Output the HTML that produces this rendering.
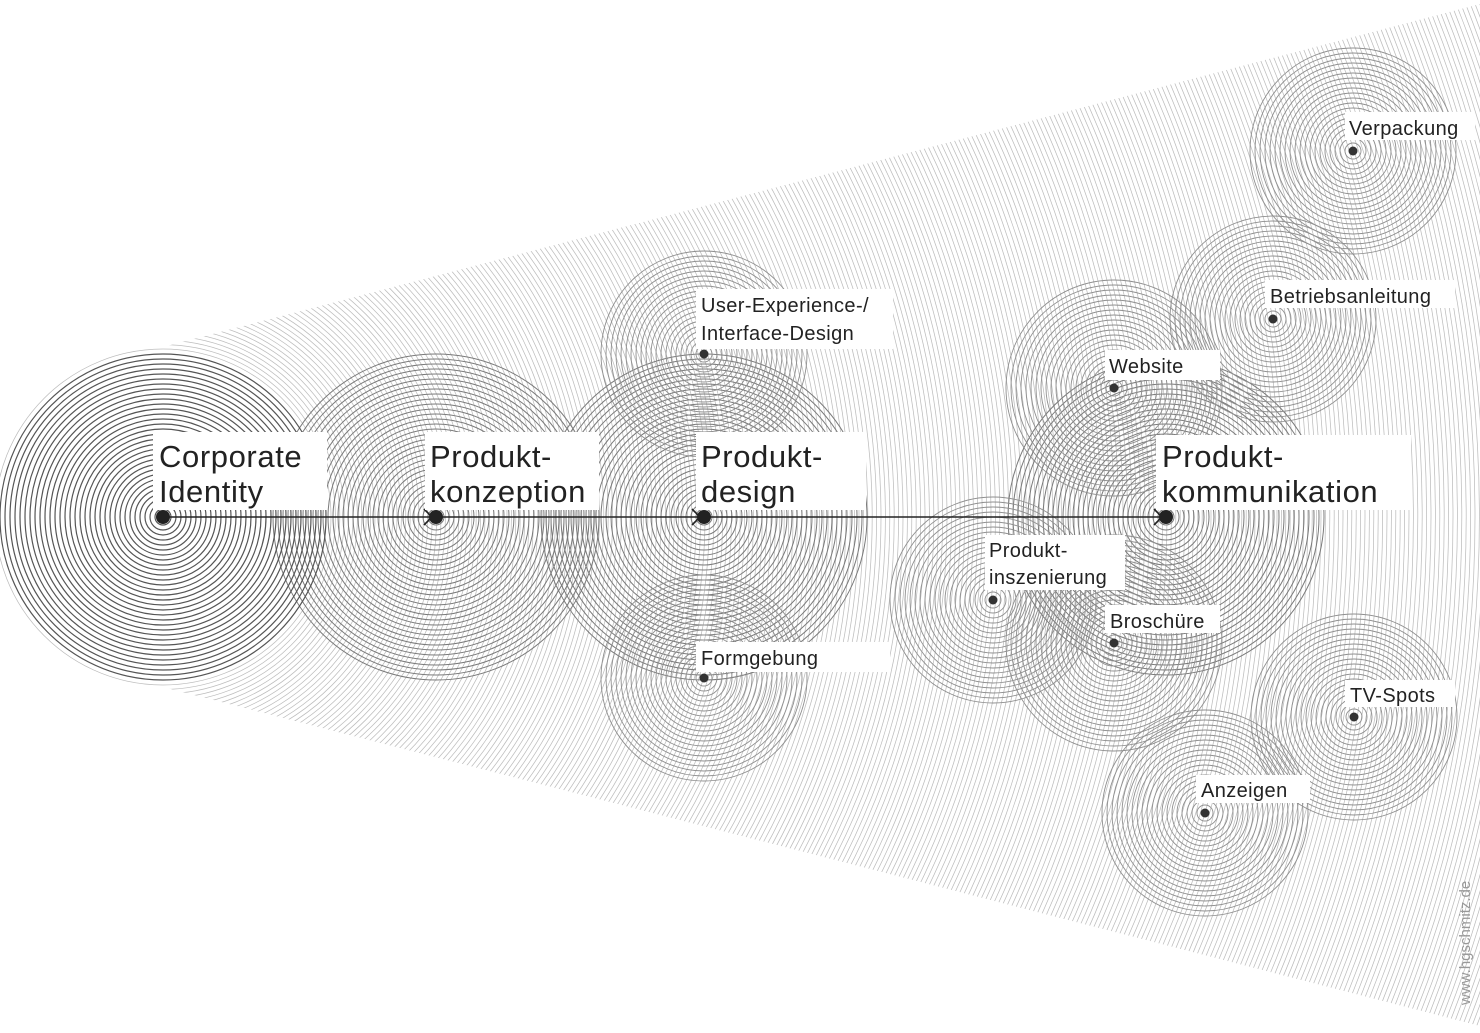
<!DOCTYPE html>
<html><head><meta charset="utf-8"><style>
html,body{margin:0;padding:0;background:#fff;width:1480px;height:1033px;overflow:hidden;}
svg{display:block;}
text{font-family:"Liberation Sans",sans-serif;fill:#222;}
.b{font-size:31px;letter-spacing:0.6px;}
.s{font-size:20px;letter-spacing:0.4px;}
</style></head><body>
<svg id="s" width="1480" height="1033" viewBox="0 0 1480 1033" xmlns="http://www.w3.org/2000/svg">
<defs>
<clipPath id="wedge">
<polygon points="163,347 1480,4 1480,1026 163,687"/>
<circle cx="163" cy="517" r="170"/>
</clipPath>
</defs>
<g id="fan" clip-path="url(#wedge)" fill="none"></g>
<g id="rings" fill="none"></g>
<line x1="163" y1="517" x2="1160" y2="517" stroke="#222" stroke-width="1.6"/>
<g fill="none" stroke="#222" stroke-width="1.6">
<polyline points="424,509 432,517 424,525"/>
<polyline points="692,509 700,517 692,525"/>
<polyline points="1154,509 1162,517 1154,525"/>
</g>
<g fill="#fff">
<rect x="153" y="432" width="174" height="78"/>
<rect x="425" y="432" width="174" height="78"/>
<rect x="696" y="432" width="170" height="78"/>
<rect x="1156" y="435" width="255" height="75"/>
<rect x="696" y="289" width="197" height="60"/>
<rect x="696" y="642" width="194" height="30"/>
<rect x="985" y="535" width="140" height="55"/>
<rect x="1105" y="350" width="115" height="30"/>
<rect x="1105" y="605" width="115" height="28"/>
<rect x="1345" y="112" width="130" height="28"/>
<rect x="1265" y="280" width="190" height="28"/>
<rect x="1345" y="680" width="110" height="27"/>
<rect x="1196" y="775" width="114" height="28"/>
</g>
<g fill="#222">
<circle cx="163" cy="517" r="7"/>
<circle cx="436" cy="517" r="7"/>
<circle cx="704" cy="517" r="7"/>
<circle cx="1166" cy="517" r="7"/>
</g>
<g fill="#333">
<circle cx="704" cy="354" r="4.5"/>
<circle cx="704" cy="678" r="4.5"/>
<circle cx="993" cy="600" r="4.5"/>
<circle cx="1114" cy="388" r="4.5"/>
<circle cx="1114" cy="643" r="4.5"/>
<circle cx="1353" cy="151" r="4.5"/>
<circle cx="1273" cy="319" r="4.5"/>
<circle cx="1354" cy="717" r="4.5"/>
<circle cx="1205" cy="813" r="4.5"/>
</g>
<text class="b" x="159" y="467">Corporate</text>
<text class="b" x="159" y="502">Identity</text>
<text class="b" x="430" y="467">Produkt-</text>
<text class="b" x="430" y="502">konzeption</text>
<text class="b" x="701" y="467">Produkt-</text>
<text class="b" x="701" y="502">design</text>
<text class="b" x="1162" y="467">Produkt-</text>
<text class="b" x="1162" y="502">kommunikation</text>
<text class="s" x="701" y="312">User-Experience-/</text>
<text class="s" x="701" y="340">Interface-Design</text>
<text class="s" x="701" y="665">Formgebung</text>
<text class="s" x="989" y="557">Produkt-</text>
<text class="s" x="989" y="584">inszenierung</text>
<text class="s" x="1109" y="373">Website</text>
<text class="s" x="1110" y="628">Broschüre</text>
<text class="s" x="1349" y="135">Verpackung</text>
<text class="s" x="1270" y="303">Betriebsanleitung</text>
<text class="s" x="1350" y="702">TV-Spots</text>
<text class="s" x="1201" y="797">Anzeigen</text>
<text x="1470" y="1005" transform="rotate(-90 1470 1005)" style="font-size:15px;fill:#999;">www.hgschmitz.de</text>
</svg>
<script>
(function(){
var NS="http://www.w3.org/2000/svg";
function circ(g,cx,cy,r,col,w){var c=document.createElementNS(NS,"circle");c.setAttribute("cx",cx);c.setAttribute("cy",cy);c.setAttribute("r",r);c.setAttribute("stroke",col);c.setAttribute("stroke-width",w);g.appendChild(c);}
var fan=document.getElementById("fan");
for(var r=168;r<1420;r+=4.4){circ(fan,163,517,r.toFixed(1),"#bdbdbd",0.75);}
var g=document.getElementById("rings");
var groups=[
[436,517,165,"#7a7a7a",1],
[704,517,165,"#7a7a7a",1],
[1166,517,160,"#7a7a7a",1],
[704,354,105,"#8f8f8f",0.9],
[704,678,105,"#8f8f8f",0.9],
[993,600,105,"#8f8f8f",0.9],
[1114,388,108,"#8f8f8f",0.9],
[1114,643,108,"#8f8f8f",0.9],
[1353,151,105,"#8f8f8f",0.9],
[1273,319,105,"#8f8f8f",0.9],
[1354,717,105,"#8f8f8f",0.9],
[1205,813,105,"#8f8f8f",0.9],
[163,517,163,"#555",1.2]
];
groups.forEach(function(q){for(var r=8;r<=q[2];r+=5){circ(g,q[0],q[1],r,q[3],q[4]);}});
})();
</script>
</body></html>
